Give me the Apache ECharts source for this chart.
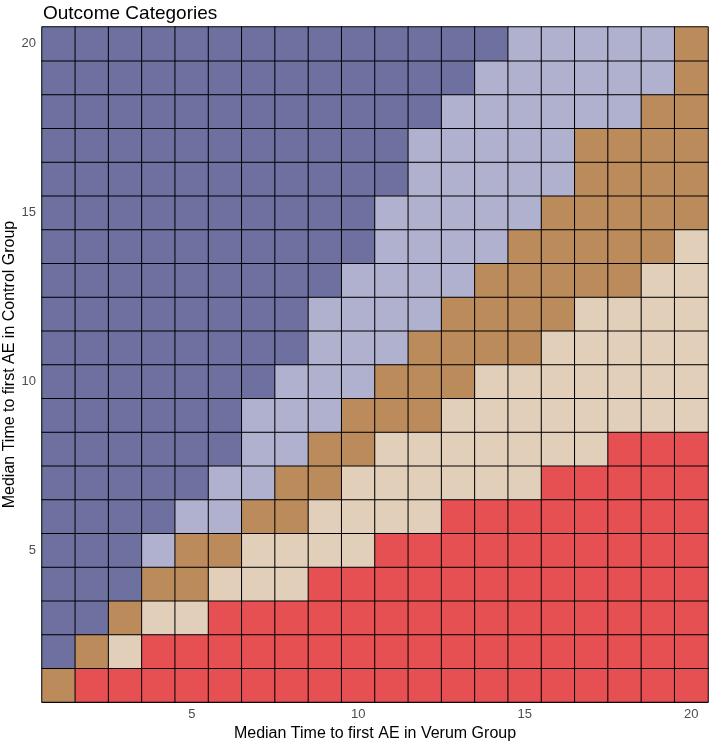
<!DOCTYPE html>
<html>
<head>
<meta charset="utf-8">
<script src="https://cdn.jsdelivr.net/npm/echarts@6/dist/echarts.min.js"></script>
<style>
  html, body { margin: 0; padding: 0; background: #fff; }
  #main { width: 709px; height: 741px; }
</style>
</head>
<body>
<div id="main"></div>
<script>
// axis categories (median time, 1..20)
const verumTimes = ['1','2','3','4','5','6','7','8','9','10','11','12','13','14','15','16','17','18','19','20'];
const controlTimes = ['1','2','3','4','5','6','7','8','9','10','11','12','13','14','15','16','17','18','19','20'];

// for each control-group row (1..20): last verum column of each category band
const darkEnd     = [0, 1, 2, 3, 3, 4, 5, 6, 6, 7, 8, 8, 9, 10, 10, 11, 11, 12, 13, 14];
const lavenderEnd = [0, 1, 2, 3, 4, 6, 7, 8, 9, 10, 11, 12, 13, 14, 15, 16, 16, 18, 19, 19];
const brownEnd    = [1, 2, 3, 5, 6, 8, 9, 10, 12, 13, 15, 16, 18, 19, 20, 20, 20, 20, 20, 20];
const beigeEnd    = [1, 3, 5, 8, 10, 12, 15, 17, 20, 20, 20, 20, 20, 20, 20, 20, 20, 20, 20, 20];

const categoryColors = ['#6e70a0', '#b0b1ce', '#bc8b5b', '#e2cfba', '#e65052'];

// build heatmap cells [x, y, category]
const cells = [];
for (let r = 0; r < controlTimes.length; r++) {
    for (let c = 0; c < verumTimes.length; c++) {
        const col = c + 1;
        let cat = 4;
        if (col <= darkEnd[r]) cat = 0;
        else if (col <= lavenderEnd[r]) cat = 1;
        else if (col <= brownEnd[r]) cat = 2;
        else if (col <= beigeEnd[r]) cat = 3;
        cells.push([c, r, cat]);
    }
}

const every5 = (i, v) => Number(v) % 5 === 0;
const font = 'Liberation Sans';

const chart = echarts.init(document.getElementById('main'));
chart.setOption({
    animation: false,
    title: {
        text: 'Outcome Categories',
        left: 38,
        top: -1,
        textStyle: { fontFamily: font, fontSize: 19, fontWeight: 'normal', color: '#000' }
    },
    grid: { left: 42, right: 1, top: 27, bottom: 39, outerBoundsMode: 'none' },
    xAxis: {
        type: 'category',
        data: verumTimes,
        name: 'Median Time to first AE in Verum Group',
        nameLocation: 'middle',
        nameGap: 24,
        nameTextStyle: { fontFamily: font, fontSize: 16, color: '#000' },
        axisLine: { lineStyle: { color: '#000', width: 1 } },
        axisTick: { alignWithLabel: true, interval: every5, length: 3, lineStyle: { color: '#333' } },
        axisLabel: { interval: every5, margin: 6, fontFamily: font, fontSize: 13, color: '#4d4d4d' },
        splitLine: { show: false }
    },
    yAxis: {
        type: 'category',
        data: controlTimes,
        name: 'Median Time to first AE in Control Group',
        nameLocation: 'middle',
        nameRotate: 90,
        nameGap: 24,
        nameMoveOverlap: false,
        nameTextStyle: { fontFamily: font, fontSize: 16, color: '#000' },
        axisLine: { lineStyle: { color: '#000', width: 1 } },
        axisTick: { alignWithLabel: true, interval: every5, length: 3, lineStyle: { color: '#333' } },
        axisLabel: { interval: every5, margin: 6, fontFamily: font, fontSize: 13, color: '#4d4d4d' },
        splitLine: { show: false }
    },
    visualMap: {
        show: false,
        type: 'piecewise',
        dimension: 2,
        pieces: categoryColors.map((c, i) => ({ value: i, color: c }))
    },
    series: [{
        type: 'heatmap',
        data: cells,
        itemStyle: { borderColor: '#000', borderWidth: 1 },
        emphasis: { disabled: true }
    }]
});
</script>
</body>
</html>
